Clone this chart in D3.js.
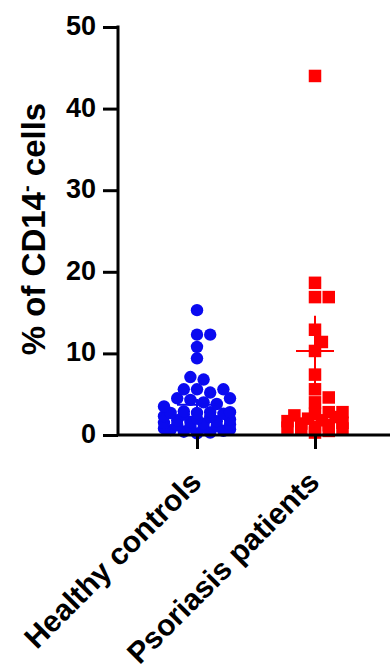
<!DOCTYPE html>
<html>
<head>
<meta charset="utf-8">
<script src="https://cdn.jsdelivr.net/npm/d3@7"></script>
<style>
  body { margin: 0; background: #fff; }
  svg text { font-family: "Liberation Sans", Arial, sans-serif; font-weight: bold; }
</style>
</head>
<body>
<div id="chart"></div>
<script>
const groups = ["Healthy controls", "Psoriasis patients"];

const healthyValues = [15.3, 12.3, 12.3, 10.8, 9.4, 7.1, 6.8, 5.6, 5.6, 5.6, 5.2, 4.5, 4.5,
  4.3, 4.0, 3.8, 3.5, 2.9, 2.8, 2.8, 2.7, 2.7, 2.6, 2.5, 2.3, 2.2, 2.0, 1.9, 1.8, 1.7,
  1.6, 1.5, 1.4, 1.3, 1.2, 1.1, 1.0, 0.9, 0.8, 0.7, 0.6, 0.5, 0.4, 0.3, 0.2];

const psoriasisValues = [44.0, 18.65, 16.9, 16.9, 12.9, 11.4, 10.3, 7.4, 5.6, 4.6, 4.0,
  2.8, 2.8, 2.6, 2.4, 2.2, 2.0, 1.8, 1.7, 1.5, 1.4, 1.2, 1.0, 0.9, 0.8, 0.7, 0.5, 0.3];

// mean and error bar ends for each group
const healthyMean = 3.7, healthyErr = [3.0, 4.4];
const psoriasisMean = 10.3, psoriasisErr = [6.0, 14.6];

const yTicks = [0, 10, 20, 30, 40, 50];

const w = 390, h = 671;

const svg = d3.select("#chart").append("svg")
  .attr("width", w).attr("height", h);

const y = d3.scaleLinear().domain([0, 50]).range([435, 27]);
const x = d3.scalePoint().domain(groups).range([197, 315]);

// spread points sideways so they do not pile on top of each other
function dodge(values, cx, size, maxOff) {
  const placed = [];
  const sorted = values.slice().sort((a, b) => a - b);
  const step = size * 0.55;
  const cands = [0];
  for (let k = 1; k * step <= maxOff; k++) { cands.push(k * step, -k * step); }
  sorted.forEach(v => {
    const py = y(v);
    let best = null, bestScore = Infinity;
    for (const off of cands) {
      let score = 0;
      for (const p of placed) {
        const d = Math.hypot(p.x - (cx + off), p.y - py);
        if (d < size * 0.9) score += size * 0.9 - d;
      }
      if (score === 0) { best = off; break; }
      if (score < bestScore) { bestScore = score; best = off; }
    }
    placed.push({ x: cx + best, y: py, v });
  });
  return placed;
}

const blue = "#0a0af0", red = "#ff0000";

// mean + error bars
function summary(mean, err, cx, color, half) {
  svg.append("line")
    .attr("x1", cx).attr("x2", cx)
    .attr("y1", y(err[0])).attr("y2", y(err[1]))
    .attr("stroke", color).attr("stroke-width", 2);
  svg.append("line")
    .attr("x1", cx - half).attr("x2", cx + half)
    .attr("y1", y(mean)).attr("y2", y(mean))
    .attr("stroke", color).attr("stroke-width", 2);
}

const hPts = dodge(healthyValues, x(groups[0]), 12, 34);
svg.append("g").selectAll("circle")
  .data(hPts).enter().append("circle")
  .attr("cx", d => d.x).attr("cy", d => d.y)
  .attr("r", 6.2).attr("fill", blue);
summary(healthyMean, healthyErr, x(groups[0]), blue, 20);

const pPts = dodge(psoriasisValues, x(groups[1]), 12.5, 34);
summary(psoriasisMean, psoriasisErr, x(groups[1]), red, 19);
svg.append("g").selectAll("rect")
  .data(pPts).enter().append("rect")
  .attr("x", d => d.x - 6.25).attr("y", d => d.y - 6.25)
  .attr("width", 12.5).attr("height", 12.5)
  .attr("fill", red);
// the mean bar crosses the squares on top
svg.append("line")
  .attr("x1", x(groups[1]) - 19).attr("x2", x(groups[1]) + 19)
  .attr("y1", y(psoriasisMean)).attr("y2", y(psoriasisMean))
  .attr("stroke", red).attr("stroke-width", 2);

// axes
const yAxis = d3.axisLeft(y).tickValues(yTicks).tickSize(15).tickPadding(7);
svg.append("g")
  .attr("transform", "translate(118,0)")
  .call(yAxis)
  .call(g => g.selectAll("line, path").attr("stroke", "#000").attr("stroke-width", 3))
  .call(g => g.select(".domain").attr("d", `M0,${y(50) - 1.5}V${y(0)}`))
  .call(g => g.selectAll("text").attr("font-size", 27).attr("fill", "#000").attr("dy", "0.28em")
    .attr("font-family", "Liberation Sans, Arial, sans-serif").attr("font-weight", "bold"));

const xAxis = d3.axisBottom(x).tickSize(14).tickFormat("");
svg.append("g")
  .attr("transform", "translate(0,435)")
  .call(xAxis)
  .call(g => g.selectAll("line, path").attr("stroke", "#000").attr("stroke-width", 3))
  .call(g => g.select(".domain").attr("d", "M118,0H390"));

svg.append("g").selectAll("text")
  .data(groups).enter().append("text")
  .attr("transform", d => `translate(${x(d) + 6},484) rotate(-45)`)
  .attr("text-anchor", "end")
  .attr("font-size", 30)
  .attr("fill", "#000")
  .text(d => d);

// y axis title
const title = svg.append("text")
  .attr("transform", "translate(45,229) rotate(-90)")
  .attr("text-anchor", "middle")
  .attr("font-size", 33)
  .attr("fill", "#000");
title.append("tspan").text("% of CD14");
title.append("tspan").attr("dy", -12).attr("font-size", 20).text("-");
title.append("tspan").attr("dy", 12).text(" cells");
</script>
</body>
</html>
